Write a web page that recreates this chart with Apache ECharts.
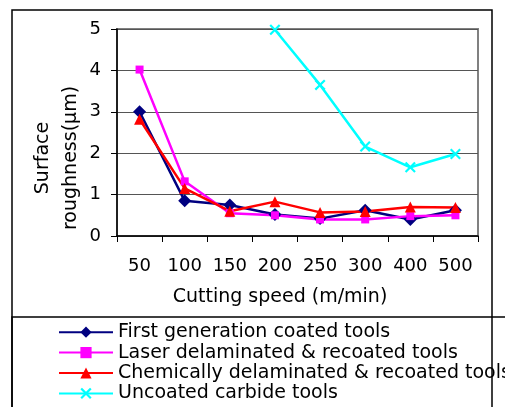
<!DOCTYPE html>
<html>
<head>
<meta charset="utf-8">
<script src="https://cdn.jsdelivr.net/npm/echarts@6/dist/echarts.min.js"></script>
<style>
  html, body { margin: 0; padding: 0; background: #fff; }
  #chart { width: 505px; height: 407px; }
</style>
</head>
<body>
<div id="chart"></div>
<script>
// Cutting speed categories (m/min)
const speeds = ['50', '100', '150', '200', '250', '300', '400', '500'];

// Surface roughness (µm) per tool type
const firstGen    = [3.0, 0.85, 0.75, 0.52, 0.42, 0.62, 0.40, 0.62];
const laserRecoat = [4.02, 1.32, 0.55, 0.50, 0.40, 0.40, 0.48, 0.50];
const chemRecoat  = [2.82, 1.15, 0.60, 0.83, 0.57, 0.59, 0.70, 0.69];
const uncoated    = [null, null, null, 4.98, 3.65, 2.16, 1.66, 1.98];

const seriesNames = [
  'First generation coated tools',
  'Laser delaminated & recoated tools',
  'Chemically delaminated & recoated tools',
  'Uncoated carbide tools'
];

const yTicks = [0, 1, 2, 3, 4, 5];

const FONT = 'DejaVu Sans, Arial, sans-serif';
const crossPath = 'path://M0,1.4L1.4,0L5,3.6L8.6,0L10,1.4L6.4,5L10,8.6L8.6,10L5,6.4L1.4,10L0,8.6L3.6,5Z';

const chart = echarts.init(document.getElementById('chart'), null, { renderer: 'canvas' });

chart.setOption({
  animation: false,
  backgroundColor: '#fff',
  textStyle: { fontFamily: FONT },
  grid: {
    left: 117, right: 27, top: 29, bottom: 171,
    show: true, borderColor: '#808080', borderWidth: 2, backgroundColor: 'transparent'
  },
  xAxis: {
    type: 'category',
    data: speeds,
    boundaryGap: true,
    axisLine: { lineStyle: { color: '#000', width: 1.5 } },
    axisTick: { show: true, inside: false, length: 6, interval: 0, lineStyle: { color: '#000' } },
    axisLabel: { color: '#000', fontSize: 18, fontFamily: FONT, margin: 21, interval: 0 },
    splitLine: { show: false }
  },
  yAxis: {
    type: 'value',
    min: yTicks[0], max: yTicks[yTicks.length - 1], interval: 1,
    axisLine: { show: true, lineStyle: { color: '#000', width: 1.5 } },
    axisTick: { show: true, length: 6, lineStyle: { color: '#000' } },
    axisLabel: { color: '#000', fontSize: 18, fontFamily: FONT, margin: 16 },
    splitLine: { show: true, lineStyle: { color: '#555', width: 1.2 } }
  },
  legend: {
    orient: 'vertical',
    left: 58, top: 322, bottom: 0,
    padding: 0,
    itemWidth: 54, itemHeight: 14, itemGap: 0,
    textStyle: { fontSize: 19, color: '#000', fontFamily: FONT, lineHeight: 20.4 },
    data: seriesNames
  },
  series: [
    {
      name: seriesNames[0], type: 'line', data: firstGen,
      symbol: 'diamond', symbolSize: 13,
      lineStyle: { color: '#000080', width: 2.5 },
      itemStyle: { color: '#000080' }
    },
    {
      name: seriesNames[1], type: 'line', data: laserRecoat,
      symbol: 'rect', symbolSize: 8,
      lineStyle: { color: '#ff00ff', width: 2.5 },
      itemStyle: { color: '#ff00ff' }
    },
    {
      name: seriesNames[2], type: 'line', data: chemRecoat,
      symbol: 'triangle', symbolSize: 11,
      lineStyle: { color: '#ff0000', width: 2.5 },
      itemStyle: { color: '#ff0000' }
    },
    {
      name: seriesNames[3], type: 'line', data: uncoated,
      symbol: crossPath, symbolSize: 11,
      lineStyle: { color: '#00ffff', width: 2.5 },
      itemStyle: { color: '#00ffff' }
    }
  ],
  graphic: [
    // outer chart frame
    { type: 'rect', shape: { x: 12, y: 10, width: 480, height: 410 }, style: { fill: 'none', stroke: '#000', lineWidth: 1.5 }, z: -1 },
    // legend frame
    { type: 'rect', shape: { x: 12, y: 317, width: 520, height: 100 }, style: { fill: 'none', stroke: '#000', lineWidth: 1.5 }, z: 10 },
    // y axis title
    {
      type: 'text', x: 57, y: 158, rotation: Math.PI / 2,
      style: { text: 'Surface\nroughness(μm)', fontSize: 19, fontFamily: FONT, fill: '#000', align: 'center', verticalAlign: 'middle', lineHeight: 28 }
    },
    // x axis title
    {
      type: 'text', x: 280, y: 297,
      style: { text: 'Cutting speed (m/min)', fontSize: 19, fontFamily: FONT, fill: '#000', align: 'center', verticalAlign: 'middle' }
    }
  ]
});
</script>
</body>
</html>
